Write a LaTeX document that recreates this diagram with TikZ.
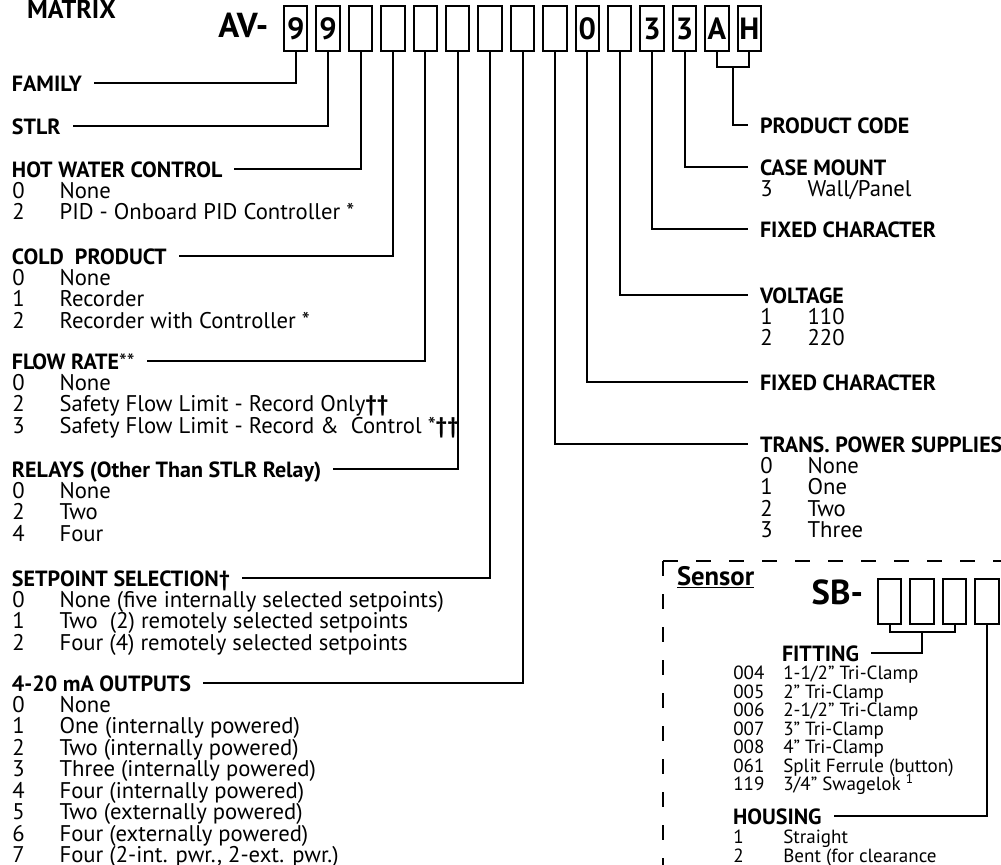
\documentclass[tikz,border=0pt]{standalone}
\usepackage{fontspec}
\setmainfont{PT Sans}
\usepackage{tikz}
\usetikzlibrary{positioning}
\usetikzlibrary{matrix}
\usetikzlibrary{calc}

\newcommand{\optrow}[2]{\makebox[35.5pt][l]{#1}#2}
\newcommand{\fitrow}[2]{\makebox[37.5pt][l]{#1}#2}

\begin{document}
\begin{tikzpicture}[x=0.75pt, y=-0.75pt,
		wire/.style={line width=1.5pt},
		cellbox/.style={draw, line width=1.5pt, minimum width=17.6pt, minimum height=33.75pt,
			inner sep=0pt, outer sep=0pt, text height=16pt, text depth=0pt,
			font=\fontsize{23}{23}\selectfont\bfseries},
		bigcode/.style={inner sep=0pt, font=\fontsize{26}{26}\selectfont\bfseries},
		head/.style={inner sep=0pt, outer xsep=9pt, text height=12pt, text depth=0pt,
			font=\fontsize{16.5}{17}\selectfont\bfseries},
		opt/.style={anchor=west, inner sep=0pt, text height=12pt, text depth=0pt,
			font=\fontsize{17}{17}\selectfont},
		fit/.style={opt, text height=10pt, font=\fontsize{14.3}{15}\selectfont},
		sensorframe/.style={line width=1.5pt, dash pattern=on 11.25pt off 13.5pt}
	]
	\useasboundingbox (0,0) rectangle (1001,865);

	\node[head, anchor=base west, outer sep=0pt, font=\fontsize{19.5}{20}\selectfont\bfseries] (title) at (27,18) {MATRIX};

	\matrix (AV) [
		matrix of nodes, nodes={cellbox}, nodes in empty cells,
		column sep=5.2pt, inner sep=0pt, outer sep=0pt, anchor=north west
	] at (283,5) {
		9 & 9 & & & & & & & & 0 & & 3 & 3 & A & H \\
	};
	\node[bigcode, left=11.5pt of AV-1-1, yshift=2pt] (av) {AV-};

	% left column
	\node[head, anchor=west] (family) at (0,83) {FAMILY};
	\node[head, anchor=west] (stlr) at (0,126) {STLR};
	\node[head, anchor=west] (hotwater) at (0,169) {HOT WATER CONTROL};
	\node[head, anchor=west] (coldprod) at (0,256) {COLD~ PRODUCT};
	\node[head, anchor=west] (flowrate) at (0,361) {FLOW RATE{\mdseries **}};
	\node[head, anchor=west] (relays) at (0,469) {RELAYS (Other Than STLR Relay)};
	\node[head, anchor=west] (setpoint) at (0,578) {SETPOINT SELECTION†};
	\node[head, anchor=west] (outputs) at (0,683) {4-20 mA OUTPUTS};

	\foreach \n/\t [count=\k] in {0/None, 2/PID - Onboard PID Controller *}
		\node[opt] (hw-\k) at (12,{169+21.43*\k}) {\optrow{\n}{\t}};
	\foreach \n/\t [count=\k] in {0/None, 1/Recorder, 2/Recorder with Controller *}
		\node[opt] (cp-\k) at (12,{256+21.43*\k}) {\optrow{\n}{\t}};
	\foreach \n/\t [count=\k] in {0/None, 2/Safety Flow Limit - Record Only\textbf{††},
			3/Safety Flow Limit - Record \&~ Control *\textbf{††}}
		\node[opt] (fr-\k) at (12,{361+21.43*\k}) {\optrow{\n}{\t}};
	\foreach \n/\t [count=\k] in {0/None, 2/Two, 4/Four}
		\node[opt] (rl-\k) at (12,{469+21.43*\k}) {\optrow{\n}{\t}};
	\foreach \n/\t [count=\k] in {0/None (five internally selected setpoints),
			1/Two~ (2) remotely selected setpoints, 2/Four (4) remotely selected setpoints}
		\node[opt] (sp-\k) at (12,{578+21.43*\k}) {\optrow{\n}{\t}};
	\foreach \n/\t [count=\k] in {0/None, 1/One (internally powered), 2/Two (internally powered),
			3/Three (internally powered), 4/Four (internally powered), 5/Two (externally powered),
			6/Four (externally powered), 7/{Four (2-int. pwr., 2-ext. pwr.)}}
		\node[opt] (op-\k) at (12,{683+21.43*\k}) {\optrow{\n}{\t}};

	% right column
	\node[head, anchor=west] (prodcode) at (748,125) {PRODUCT CODE};
	\node[head, anchor=west] (casemount) at (748,167) {CASE MOUNT};
	\node[head, anchor=west] (fixb) at (748,229) {FIXED CHARACTER};
	\node[head, anchor=west] (voltage) at (748,295) {VOLTAGE};
	\node[head, anchor=west] (fixa) at (748,382) {FIXED CHARACTER};
	\node[head, anchor=west] (tps) at (748,444) {TRANS. POWER SUPPLIES};

	\node[opt] (cm-1) at (760,{167+21.43}) {\optrow{3}{Wall/Panel}};
	\foreach \n/\t [count=\k] in {1/110, 2/220}
		\node[opt] (vo-\k) at (760,{295+21.43*\k}) {\optrow{\n}{\t}};
	\foreach \n/\t [count=\k] in {0/None, 1/One, 2/Two, 3/Three}
		\node[opt] (ps-\k) at (760,{444+21.43*\k}) {\optrow{\n}{\t}};

	% connectors
	\foreach \c/\h in {1/family, 2/stlr, 3/hotwater, 4/coldprod, 5/flowrate, 6/relays, 7/setpoint, 8/outputs}
		\draw[wire] (AV-1-\c.south) |- (\h.east);
	\foreach \c/\h in {9/tps, 10/fixa, 11/voltage, 12/fixb, 13/casemount}
		\draw[wire] (AV-1-\c.south) |- (\h.west);
	\draw[wire] (AV-1-14.south) -- ++(0,16) -| (AV-1-15.south);
	\draw[wire] ($(AV-1-14.south)!.5!(AV-1-15.south)+(0,16)$) |- (prodcode.west);

	% sensor
	\draw[sensorframe] (663,561) -- (1010,561);
	\draw[sensorframe] (663,561) -- (663,880);
	\node[head, anchor=base west, outer sep=0pt, font=\fontsize{20}{20}\selectfont\bfseries] (sensor) at (677,585) {\underline{Sensor}};

	\matrix (SB) [
		matrix of nodes, nodes={cellbox}, nodes in empty cells,
		column sep=5.2pt, inner sep=0pt, outer sep=0pt, anchor=north west
	] at (877,578) {
		& & & \\
	};
	\node[bigcode, left=11pt of SB-1-1, yshift=7pt] (sb) {SB-};

	\node[head, anchor=west] (fitting) at (770,653) {FITTING};
	\node[head, anchor=west] (housing) at (721,816) {HOUSING};

	\foreach \n/\t [count=\k from 0] in {004/{1-1/2” Tri-Clamp}, 005/2” Tri-Clamp, 006/{2-1/2” Tri-Clamp},
			007/3” Tri-Clamp, 008/4" Tri-Clamp, 061/Split Ferrule (button), 119/{3/4” Swagelok \textsuperscript{1}}}
		\node[fit] (ft-\k) at (733,{673+18.5*\k}) {\fitrow{\n}{\t}};
	\foreach \n/\t [count=\k] in {1/Straight, 2/Bent (for clearance}
		\node[fit] (hs-\k) at (733,{818+19*\k}) {\fitrow{\n}{\t}};

	\draw[wire] (SB-1-1.south) -- ++(0,8) -| (SB-1-3.south);
	\draw[wire] ($(SB-1-1.south)!.5!(SB-1-3.south)+(0,8)$) |- (fitting.east);
	\draw[wire] (SB-1-4.south) |- (housing.east);
\end{tikzpicture}
\end{document}
